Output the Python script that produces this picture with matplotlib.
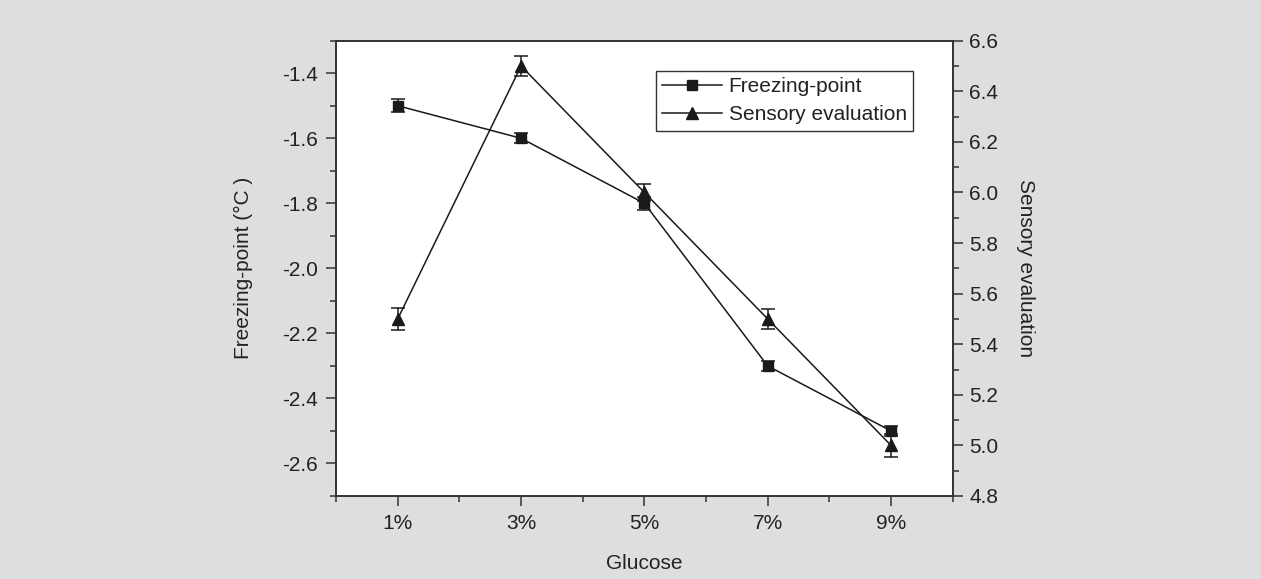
import matplotlib
matplotlib.use('Agg')
import matplotlib.pyplot as plt
import numpy as np
from matplotlib.ticker import MultipleLocator
from matplotlib.lines import Line2D

plt.rcParams['font.family'] = ['Liberation Sans', 'DejaVu Sans']
fs = 15

# data
glucose = ['1%', '3%', '5%', '7%', '9%']
freezing = [-1.5, -1.6, -1.8, -2.3, -2.5]
freezing_err = [0.02, 0.015, 0.02, 0.015, 0.015]
sensory = [5.5, 6.5, 6.0, 5.5, 5.0]
sensory_err = [0.045, 0.04, 0.035, 0.04, 0.045]

bg = '#dddee0'
ink = '#1a1a1a'
txt = '#222222'
fig = plt.figure(figsize=(12.61, 5.79), dpi=100, facecolor=bg)
ax1 = fig.add_axes([0.2665, 0.1434, 0.489, 0.7863])
ax1.set_facecolor('white')
x = np.arange(1, len(glucose) + 1)

# freezing point, left axis
ax1.errorbar(x, freezing, yerr=freezing_err, color=ink, marker='s', markersize=7,
             linewidth=1.1, capsize=5, elinewidth=1.1, capthick=1.1)
ax1.set_xlim(0.5, 5.5)
ax1.set_ylim(-2.7, -1.3)
ax1.set_xticks(x)
ax1.set_xticklabels(glucose)
ax1.set_xticks(np.arange(0.5, 5.6, 1.0), minor=True)
ax1.set_yticks(np.arange(-2.6, -1.35, 0.2))
ax1.set_yticklabels(['%.1f' % v for v in np.arange(-2.6, -1.35, 0.2)])
ax1.yaxis.set_minor_locator(MultipleLocator(0.1))
ax1.set_xlabel('Glucose', fontsize=fs, labelpad=15, color=txt)
ax1.set_ylabel('Freezing-point (°C )', fontsize=fs, labelpad=21, color=txt)

# sensory evaluation, right axis
ax2 = ax1.twinx()
ax2.errorbar(x, sensory, yerr=sensory_err, color=ink, marker='^', markersize=8,
             linewidth=1.1, capsize=5, elinewidth=1.1, capthick=1.1)
ax2.set_ylim(4.8, 6.6)
ax2.yaxis.set_major_locator(MultipleLocator(0.2))
ax2.yaxis.set_minor_locator(MultipleLocator(0.1))
ax2.set_ylabel('Sensory evaluation', fontsize=fs, rotation=270, labelpad=26, color=txt)

for ax in (ax1, ax2):
    for s in ax.spines.values():
        s.set_color('#333333')
        s.set_linewidth(1.2)
    ax.tick_params(which='major', direction='out', length=7, width=1.1, color='#333333',
                   labelsize=fs, labelcolor=txt)
    ax.tick_params(which='minor', direction='out', length=4, width=1.1, color='#333333')
ax1.tick_params(axis='both', which='both', top=False, right=False)
ax1.tick_params(axis='x', which='major', pad=6)
ax1.tick_params(axis='y', which='major', pad=6)
ax2.tick_params(axis='y', which='both', left=False)
ax2.tick_params(axis='y', which='major', pad=5)

h1 = Line2D([], [], color=ink, marker='s', markersize=7, linewidth=1.1)
h2 = Line2D([], [], color=ink, marker='^', markersize=8, linewidth=1.1)
leg = ax2.legend([h1, h2], ['Freezing-point', 'Sensory evaluation'], loc='upper right',
                 bbox_to_anchor=(0.9356, 0.934), fontsize=fs, frameon=True, fancybox=False,
                 edgecolor='#333333', handlelength=2.9, handletextpad=0.3, borderpad=0.3,
                 labelspacing=0.45, borderaxespad=0, framealpha=1)
leg.get_frame().set_linewidth(1.0)
for t in leg.get_texts():
    t.set_color(txt)

fig.savefig('out.png', dpi=100, facecolor=bg)
